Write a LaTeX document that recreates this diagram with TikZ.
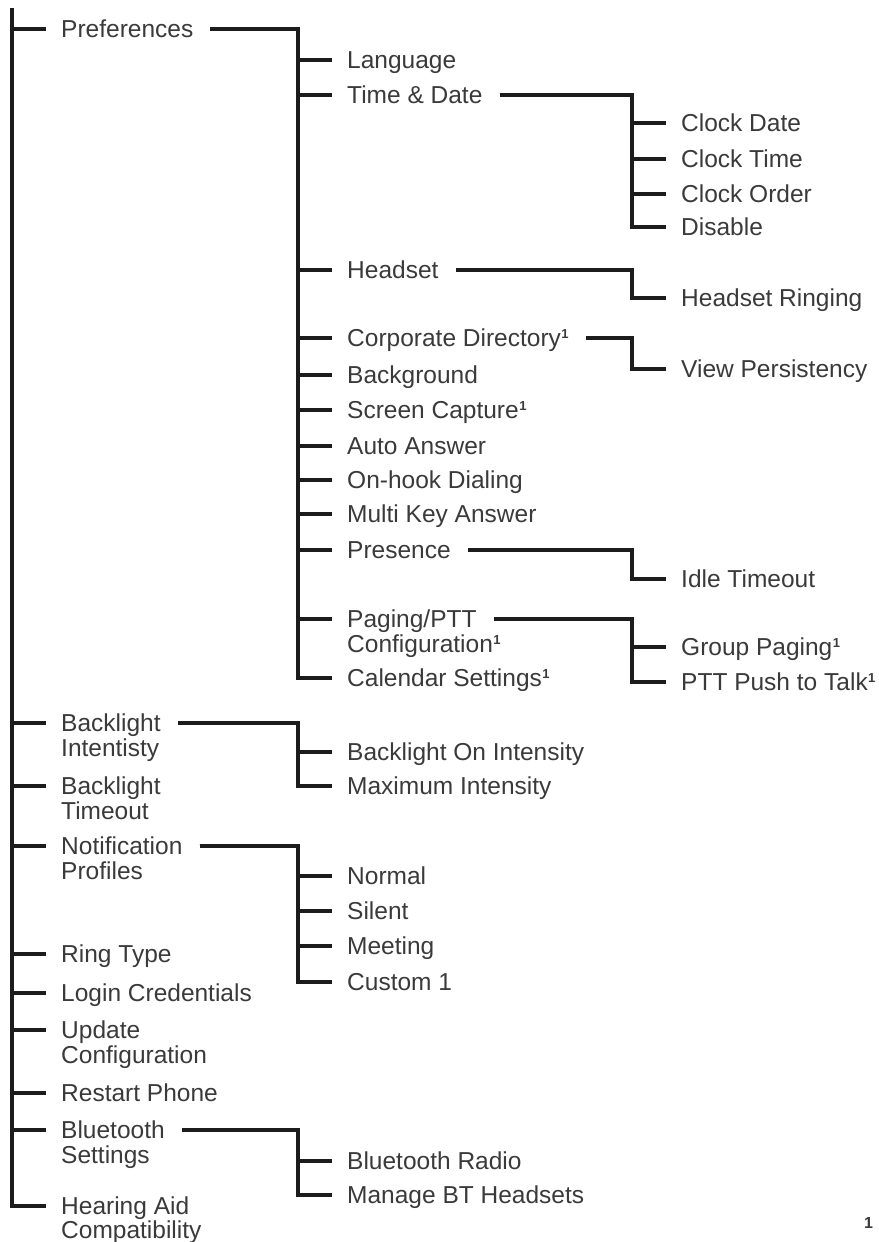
\documentclass[tikz,border=0pt]{standalone}
\usepackage{fontspec}
\setmainfont{Liberation Sans}
\definecolor{txt}{HTML}{3A3A3A}
\definecolor{ink}{HTML}{1C1C1C}
\newcommand\fnmark{\kern0.5pt\raisebox{8pt}{\fontsize{13}{13}\selectfont\bfseries 1}}
\tikzset{
  lbl/.style={anchor=base west, inner sep=0pt, yshift=-8.8pt, text=txt,
    font=\fontsize{24.5}{25}\selectfont},
  conn/.style={draw=ink, line width=4.5pt, line join=miter},
  st/.style={xshift=-15pt, yshift=8.8pt},
  tr/.style={xshift=-49pt, yshift=8.8pt},
  pe/.style={xshift=17pt, yshift=8.8pt},
}
\begin{document}
\begin{tikzpicture}[x=1pt, y=-1pt]
\useasboundingbox (0,0) rectangle (878,1242);
% level 0
\node[lbl] (pref) at (61,29) {Preferences};
\node[lbl] (bi) at (61,723) {Backlight};
\node[lbl] (bi2) at (61,748) {Intentisty};
\node[lbl] (bt) at (61,786) {Backlight};
\node[lbl] (bt2) at (61,811) {Timeout};
\node[lbl] (np) at (61,846) {Notification};
\node[lbl] (np2) at (61,871) {Profiles};
\node[lbl] (rt) at (61,954) {Ring Type};
\node[lbl] (lc) at (61,993) {Login Credentials};
\node[lbl] (uc) at (61,1030) {Update};
\node[lbl] (uc2) at (61,1055) {Configuration};
\node[lbl] (rp) at (61,1093) {Restart Phone};
\node[lbl] (bs) at (61,1130) {Bluetooth};
\node[lbl] (bs2) at (61,1155) {Settings};
\node[lbl] (ha) at (61,1206) {Hearing Aid};
\node[lbl] (ha2) at (61,1230) {Compatibility};
% level 1
\node[lbl] (lang) at (347,60) {Language};
\node[lbl] (td) at (347,95) {Time \& Date};
\node[lbl] (hs) at (347,270) {Headset};
\node[lbl] (cd) at (347,338) {Corporate Directory\fnmark};
\node[lbl] (bg) at (347,375) {Background};
\node[lbl] (sc) at (347,410) {Screen Capture\fnmark};
\node[lbl] (aa) at (347,446) {Auto Answer};
\node[lbl] (oh) at (347,480) {On-hook Dialing};
\node[lbl] (mk) at (347,514) {Multi Key Answer};
\node[lbl] (pr) at (347,550) {Presence};
\node[lbl] (pp) at (347,619) {Paging/PTT};
\node[lbl] (pp2) at (347,644) {Configuration\fnmark};
\node[lbl] (cal) at (347,678) {Calendar Settings\fnmark};
\node[lbl] (bon) at (347,752) {Backlight On Intensity};
\node[lbl] (mi) at (347,786) {Maximum Intensity};
\node[lbl] (nor) at (347,876) {Normal};
\node[lbl] (sil) at (347,911) {Silent};
\node[lbl] (mee) at (347,946) {Meeting};
\node[lbl] (cus) at (347,982) {Custom 1};
\node[lbl] (br) at (347,1161) {Bluetooth Radio};
\node[lbl] (mbt) at (347,1195) {Manage BT Headsets};
% level 2
\node[lbl] (cdt) at (681,123) {Clock Date};
\node[lbl] (ctm) at (681,159) {Clock Time};
\node[lbl] (cor) at (681,194) {Clock Order};
\node[lbl] (dis) at (681,227) {Disable};
\node[lbl] (hr) at (681,298) {Headset Ringing};
\node[lbl] (vp) at (681,369) {View Persistency};
\node[lbl] (it) at (681,579) {Idle Timeout};
\node[lbl] (gp) at (681,647) {Group Paging\fnmark};
\node[lbl] (ptt) at (681,682) {PTT Push to Talk\fnmark};
% footnote mark
\node[anchor=base west, inner sep=0pt, text=txt, font=\fontsize{16}{16}\selectfont\bfseries] (fn) at (864,1228) {1};
% root trunk
\coordinate (top) at (12,8);
\foreach \c in {pref,bi,bt,np,rt,lc,uc,rp,bs,ha}
  \draw[conn] (top) |- ([st]\c.base west);
% Preferences group
\foreach \c in {lang,td,hs,cd,bg,sc,aa,oh,mk,pr,pp,cal}
  \draw[conn] ([pe]pref.base east) -| ([tr]\c.base west) -- ([st]\c.base west);
% Time & Date group
\foreach \c in {cdt,ctm,cor,dis}
  \draw[conn] ([pe]td.base east) -| ([tr]\c.base west) -- ([st]\c.base west);
\draw[conn] ([pe]hs.base east) -| ([tr]hr.base west) -- ([st]hr.base west);
\draw[conn] ([pe]cd.base east) -| ([tr]vp.base west) -- ([st]vp.base west);
\draw[conn] ([pe]pr.base east) -| ([tr]it.base west) -- ([st]it.base west);
\foreach \c in {gp,ptt}
  \draw[conn] ([pe]pp.base east) -| ([tr]\c.base west) -- ([st]\c.base west);
\foreach \c in {bon,mi}
  \draw[conn] ([pe]bi.base east) -| ([tr]\c.base west) -- ([st]\c.base west);
\foreach \c in {nor,sil,mee,cus}
  \draw[conn] ([pe]np.base east) -| ([tr]\c.base west) -- ([st]\c.base west);
\foreach \c in {br,mbt}
  \draw[conn] ([pe]bs.base east) -| ([tr]\c.base west) -- ([st]\c.base west);
\end{tikzpicture}
\end{document}
